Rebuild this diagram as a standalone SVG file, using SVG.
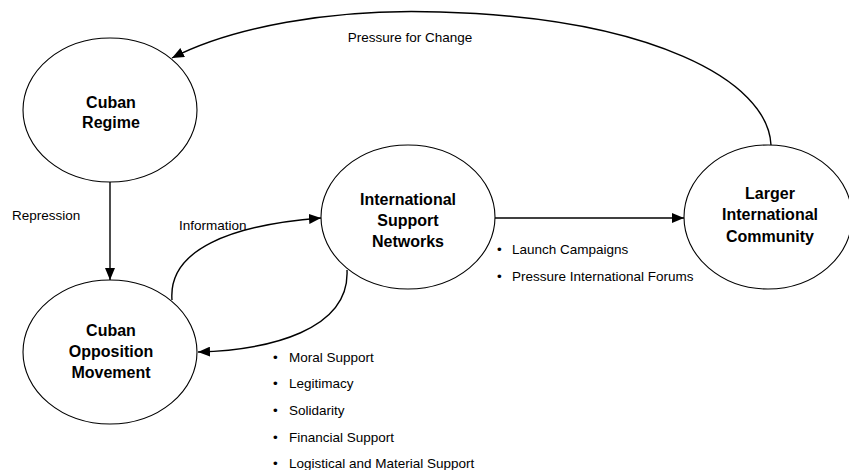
<svg xmlns="http://www.w3.org/2000/svg" width="849" height="470" viewBox="0 0 849 470">
<style>
.node ellipse{fill:#fff;stroke:#000;stroke-width:1.1}
.node text{font-family:"Liberation Sans",Arial,sans-serif;font-weight:bold;font-size:16px;text-anchor:middle;fill:#000}
.lbl{font-family:"Liberation Sans",Arial,sans-serif;font-size:13.5px;fill:#000}
.conn path{fill:none;stroke:#000;stroke-width:1.4;marker-end:url(#ah)}
</style>
<defs>
<marker id="ah" viewBox="0 0 12 10" refX="12" refY="5" markerWidth="12" markerHeight="10" markerUnits="userSpaceOnUse" orient="auto">
<path d="M0,0 L12,5 L0,10 Z" fill="#000"/>
</marker>
</defs>
<rect width="849" height="470" fill="#fff"/>
<g class="conn">
<path d="M771,145 C768,80 650,18 440,12 C330,8 230,28 172,58"/>
<path d="M110,182 L110,280"/>
<path d="M172,300 C168,250 230,225 321,218"/>
<path d="M347,270 C350,330 270,350 198,352"/>
<path d="M495,218 L684,218"/>
</g>
<g id="cuban-regime" class="node">
<ellipse cx="110" cy="110" rx="87" ry="72"/>
<text x="111" y="108">Cuban</text>
<text x="111" y="128">Regime</text>
</g>
<g id="cuban-opposition" class="node">
<ellipse cx="110" cy="352" rx="87" ry="72"/>
<text x="111" y="336">Cuban</text>
<text x="111" y="357">Opposition</text>
<text x="111" y="378">Movement</text>
</g>
<g id="intl-support" class="node">
<ellipse cx="408" cy="217" rx="87" ry="72"/>
<text x="408" y="205">International</text>
<text x="408" y="226">Support</text>
<text x="408" y="247">Networks</text>
</g>
<g id="larger-intl" class="node">
<ellipse cx="768" cy="217" rx="84" ry="72"/>
<text x="770" y="199">Larger</text>
<text x="770" y="220">International</text>
<text x="770" y="242">Community</text>
</g>
<g id="labels">
<text class="lbl" x="410" y="42" text-anchor="middle">Pressure for Change</text>
<text class="lbl" x="12" y="220">Repression</text>
<text class="lbl" x="179" y="230">Information</text>
<text class="lbl" x="497" y="254">•</text>
<text class="lbl" x="512" y="254">Launch Campaigns</text>
<text class="lbl" x="497" y="281">•</text>
<text class="lbl" x="512" y="281">Pressure International Forums</text>
<text class="lbl" x="273" y="362">•</text>
<text class="lbl" x="289" y="362">Moral Support</text>
<text class="lbl" x="273" y="388">•</text>
<text class="lbl" x="289" y="388">Legitimacy</text>
<text class="lbl" x="273" y="415">•</text>
<text class="lbl" x="289" y="415">Solidarity</text>
<text class="lbl" x="273" y="442">•</text>
<text class="lbl" x="289" y="442">Financial Support</text>
<text class="lbl" x="273" y="468">•</text>
<text class="lbl" x="289" y="468">Logistical and Material Support</text>
</g>
</svg>
